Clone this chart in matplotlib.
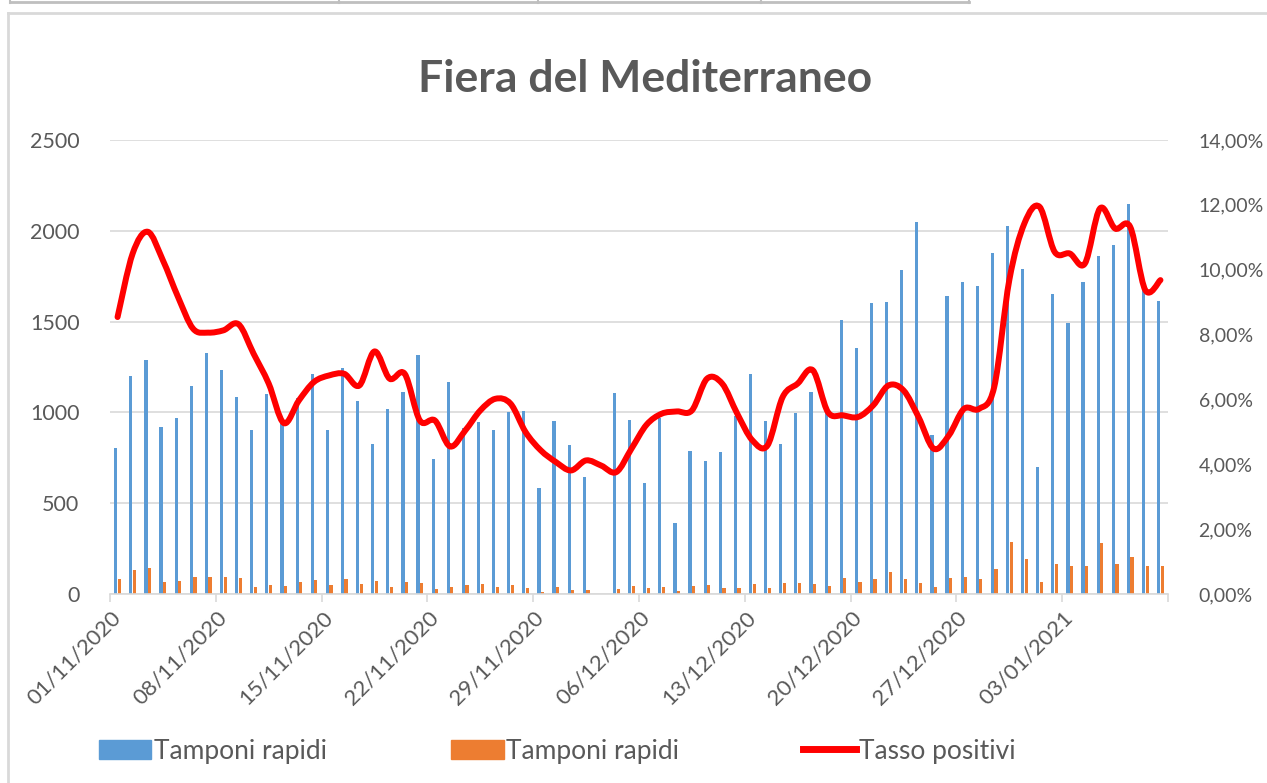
import matplotlib
matplotlib.use('Agg')
import matplotlib.pyplot as plt
import numpy as np
import pandas as pd
from matplotlib.path import Path
from matplotlib.patches import PathPatch, Patch
from matplotlib.lines import Line2D
from matplotlib.ticker import FuncFormatter

plt.rcParams['font.family'] = ['Lato', 'DejaVu Sans']

# daily values, 01/11/2020 -> 09/01/2021
dates = pd.date_range('2020-11-01', periods=70, freq='D')
tick_labels = [d.strftime('%d/%m/%Y') for d in dates[::7]]

tamponi_blu = [805, 1200, 1290, 920, 970, 1145, 1325, 1235, 1085, 905,
               1100, 950, 1080, 1210, 905, 1245, 1065, 825, 1020, 1110,
               1315, 745, 1165, 915, 945, 905, 1000, 1010, 585, 955,
               820, 645, 0, 1105, 960, 612, 970, 390, 790, 735,
               780, 980, 1210, 955, 825, 995, 1110, 1010, 1510, 1355,
               1600, 1610, 1785, 2050, 875, 1640, 1720, 1695, 1880, 2025,
               1790, 700, 1650, 1495, 1720, 1860, 1920, 2150, 1700, 1615]

tamponi_arancio = [80, 132, 143, 66, 72, 92, 96, 96, 88, 39,
                   51, 46, 68, 77, 51, 85, 57, 72, 40, 64,
                   59, 29, 39, 51, 57, 40, 51, 35, 13, 39,
                   20, 22, 0, 29, 46, 35, 37, 17, 46, 51,
                   35, 33, 57, 35, 62, 59, 57, 42, 88, 68,
                   85, 121, 85, 61, 39, 90, 96, 85, 140, 289,
                   191, 66, 165, 156, 154, 281, 164, 206, 156, 153]

tasso_positivi = [8.54, 10.5, 11.17, 10.29, 9.16, 8.18, 8.06, 8.13, 8.32, 7.41,
                  6.49, 5.27, 5.97, 6.54, 6.74, 6.79, 6.43, 7.48, 6.64, 6.79,
                  5.35, 5.35, 4.55, 5.04, 5.66, 6.02, 5.87, 4.99, 4.43, 4.07,
                  3.81, 4.12, 3.96, 3.76, 4.48, 5.22, 5.56, 5.63, 5.66, 6.64,
                  6.49, 5.56, 4.74, 4.58, 6.07, 6.49, 6.90, 5.61, 5.51, 5.46,
                  5.82, 6.43, 6.28, 5.45, 4.48, 4.89, 5.71, 5.71, 6.38, 9.68,
                  11.43, 11.94, 10.55, 10.50, 10.19, 11.89, 11.27, 11.32, 9.37, 9.68]

blue = '#5B9BD5'
orange = '#ED7D31'
red = '#FF0000'
txt = '#595959'
grid = '#D9D9D9'

W, H = 1267, 783
fig = plt.figure(figsize=(W / 100, H / 100), dpi=100)
ax = fig.add_axes([110 / W, 1 - 594 / H, (1168 - 110) / W, (594 - 140) / H])

x = np.arange(len(dates))
ax.bar(x - 0.12, tamponi_blu, width=0.21, color=blue, zorder=2)
ax.bar(x + 0.12, tamponi_arancio, width=0.21, color=orange, zorder=2)
ax.set_xlim(-0.5, len(dates) - 0.5)
ax.set_ylim(0, 2500)
ax.set_yticks(range(0, 2501, 500))
ax.grid(axis='y', color=grid, lw=1.2, zorder=0)
ax.set_axisbelow(True)
for s in ['top', 'left', 'right']:
    ax.spines[s].set_visible(False)
ax.spines['bottom'].set_color(grid)
ax.spines['bottom'].set_linewidth(1.2)
ax.tick_params(axis='y', length=0, pad=22, labelsize=15.5, labelcolor=txt)

ax.set_xticks(x[::7])
ax.set_xticklabels(tick_labels, rotation=45, ha='right', va='center',
                   rotation_mode='anchor')
ax.set_xticks(np.arange(-0.5, len(dates), 7), minor=True)
ax.tick_params(axis='x', which='major', length=0, pad=15, labelsize=16, labelcolor=txt)
ax.tick_params(axis='x', which='minor', length=6, width=1.2, color=grid)

ax2 = ax.twinx()
ax2.set_ylim(0, 14)
ax2.set_yticks(range(0, 15, 2))
ax2.yaxis.set_major_formatter(FuncFormatter(lambda v, p: f'{v:.2f}%'.replace('.', ',')))
ax2.tick_params(axis='y', length=0, pad=22, labelsize=14, labelcolor=txt)
for s in ax2.spines.values():
    s.set_visible(False)

# smoothed line (bezier through the points, like excel)
pts = np.column_stack([x, tasso_positivi]).astype(float)
verts = [tuple(pts[0])]
codes = [Path.MOVETO]
n = len(pts)
for i in range(n - 1):
    p0 = pts[max(i - 1, 0)]
    p1 = pts[i]
    p2 = pts[i + 1]
    p3 = pts[min(i + 2, n - 1)]
    c1 = p1 + (p2 - p0) / 6
    c2 = p2 - (p3 - p1) / 6
    verts += [tuple(c1), tuple(c2), tuple(p2)]
    codes += [Path.CURVE4] * 3
ax2.add_patch(PathPatch(Path(verts, codes), fill=False, edgecolor=red,
                        lw=4.3, capstyle='round', joinstyle='round', zorder=3))

fig.text(645 / W, 1 - 79 / H, 'Fiera del Mediterraneo', ha='center', va='center',
         fontsize=32, fontweight='bold', color=txt)

handles = [Patch(color=blue), Patch(color=orange), Line2D([], [], color=red, lw=5)]
labels = ['Tamponi rapidi', 'Tamponi rapidi', 'Tasso positivi']
leg = fig.legend(handles, labels, loc='center', bbox_to_anchor=(557 / W, 1 - 751 / H),
                 ncol=3, frameon=False, fontsize=19, handlelength=2.0,
                 handleheight=0.72, handletextpad=0.1, columnspacing=4.7)
for t in leg.get_texts():
    t.set_color(txt)

# chart area border and spreadsheet strip at the top
fig.add_artist(Line2D([8 / W, 1], [1 - 13 / H] * 2, color=grid, lw=2))
fig.add_artist(Line2D([8 / W] * 2, [0, 1 - 13 / H], color=grid, lw=2))
fig.add_artist(Line2D([10 / W, 969 / W], [1 - 1.5 / H] * 2, color='#BFBFBF', lw=2))
for xv in [10, 339, 538, 761, 969]:
    fig.add_artist(Line2D([xv / W] * 2, [1 - 3 / H, 1], color='#BFBFBF', lw=1.5))

fig.savefig('out.png', dpi=100, facecolor='white')
